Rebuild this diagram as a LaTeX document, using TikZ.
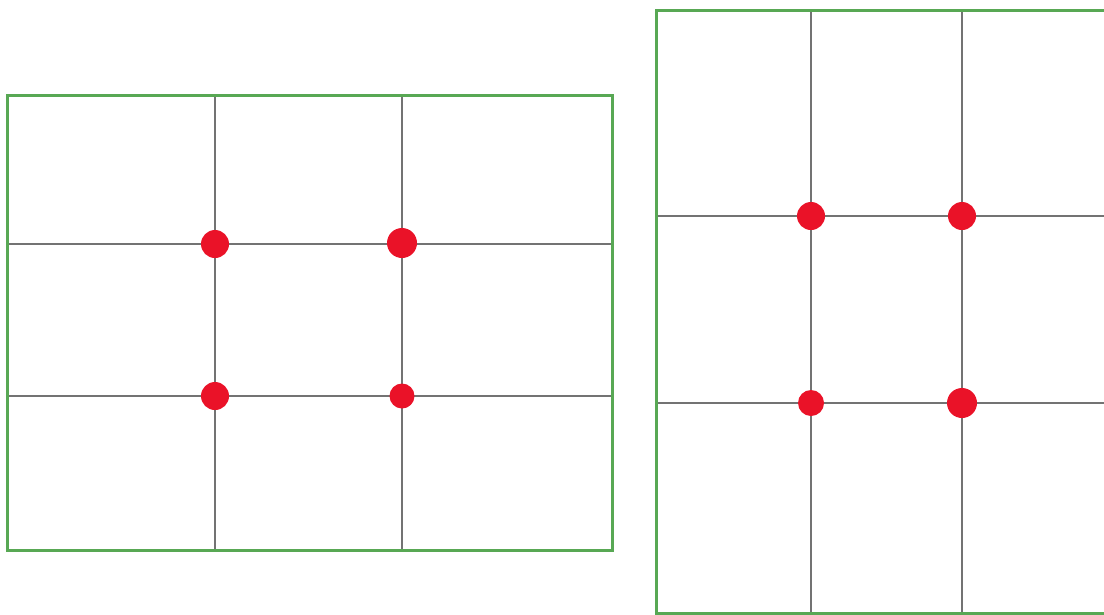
\documentclass[tikz,border=0pt]{standalone}
\definecolor{framegreen}{RGB}{88,168,84}
\definecolor{gridgray}{RGB}{115,115,115}
\definecolor{dotred}{RGB}{234,18,40}
\tikzset{
  frame/.style={draw=framegreen, line width=3pt},
  gridline/.style={draw=gridgray, line width=2.7pt},
  reddot/.style={fill=dotred}
}
\begin{document}
\begin{tikzpicture}[x=1pt,y=-1pt]
\useasboundingbox (0,0) rectangle (1104,614);
\clip (0,0) rectangle (1104,614);
\fill[white] (0,0) rectangle (1104,614);
% left frame
\draw[gridline] (215,95) -- (215,550);
\draw[gridline] (402,95) -- (402,550);
\draw[gridline] (7,244) -- (612,244);
\draw[gridline] (7,396) -- (612,396);
\draw[frame] (7,95) rectangle (612,550);
\fill[reddot] (215,244) circle (14);
\fill[reddot] (402,243) circle (15);
\fill[reddot] (215,396) circle (14);
\fill[reddot] (402,396) circle (12.5);
% right frame
\draw[gridline] (811,10) -- (811,620);
\draw[gridline] (962,10) -- (962,620);
\draw[gridline] (656,216) -- (1110,216);
\draw[gridline] (656,403) -- (1110,403);
\draw[frame] (656,10) rectangle (1115,613);
\fill[reddot] (811,216) circle (14);
\fill[reddot] (962,216) circle (14);
\fill[reddot] (811,403) circle (13);
\fill[reddot] (962,403) circle (15);
\end{tikzpicture}
\end{document}
